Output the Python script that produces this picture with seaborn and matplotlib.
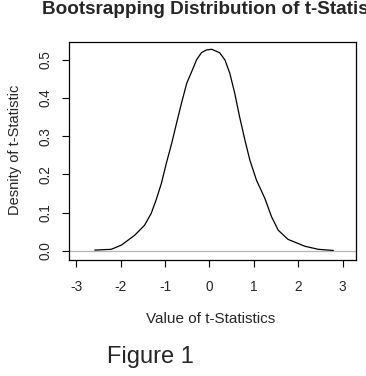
import pandas as pd
import matplotlib
matplotlib.use("Agg")
import matplotlib.pyplot as plt
import seaborn as sns

# density curve
t_value = [-2.58, -2.21, -1.98, -1.68, -1.46, -1.31, -1.20, -1.08, -0.97, -0.85,
           -0.74, -0.63, -0.51, -0.40, -0.29, -0.18, -0.07, 0.05, 0.23, 0.35,
           0.46, 0.57, 0.68, 0.80, 0.91, 1.06, 1.25, 1.40, 1.55, 1.77,
           2.15, 2.45, 2.79]
density = [0.002, 0.004, 0.015, 0.041, 0.067, 0.098, 0.133, 0.177, 0.229, 0.281,
           0.334, 0.386, 0.439, 0.469, 0.500, 0.519, 0.526, 0.528, 0.519, 0.500,
           0.465, 0.413, 0.351, 0.290, 0.238, 0.185, 0.137, 0.089, 0.054, 0.030,
           0.012, 0.004, 0.001]
x_ticks = [-3, -2, -1, 0, 1, 2, 3]
y_ticks = [0.0, 0.1, 0.2, 0.3, 0.4, 0.5]

df = pd.DataFrame({"t": t_value, "density": density})

sns.set_style("white")
plt.rcParams["font.family"] = ["Liberation Sans", "DejaVu Sans"]

W, H = 366, 376
fig = plt.figure(figsize=(W / 100, H / 100), dpi=100)
ax = fig.add_axes([69 / W, 1 - 260 / H, (356 - 69) / W, (260 - 42) / H])

ax.axhline(0, color="#b4b4b4", lw=0.9, zorder=1)
sns.lineplot(data=df, x="t", y="density", ax=ax, color="black", lw=0.9, zorder=2)

ax.set_xlim(-3.16, 3.3)
ax.set_ylim(-0.024, 0.547)
ax.set_xticks(x_ticks)
ax.set_xticklabels([str(v) for v in x_ticks])
ax.set_yticks(y_ticks)
ax.set_yticklabels([f"{v:.1f}" for v in y_ticks], rotation=90, va="center")
ax.tick_params(axis="both", direction="out", length=5, width=0.8, color="black",
               labelsize=9.8, bottom=True, left=True)
ax.tick_params(axis="x", pad=9.5)
ax.tick_params(axis="y", pad=7)
for s in ax.spines.values():
    s.set_color("black")
    s.set_linewidth(0.9)
ax.set_xlabel("")
ax.set_ylabel("")

# the title runs past the right edge, as in the reference
fig.text(42 / W, 1 - 10 / H, "Bootsrapping Distribution of t-Statistics",
         ha="left", va="center", fontsize=13.6, fontweight="bold")
fig.text(210.5 / W, 1 - 319 / H, "Value of t-Statistics", ha="center", va="center",
         fontsize=11)
fig.text(15 / W, 1 - 150 / H, "Desnity of t-Statistic", ha="center", va="center",
         rotation=90, fontsize=10.5)
fig.text(107 / W, 1 - 357 / H, "Figure 1", ha="left", va="center", fontsize=17)

fig.savefig("out.png", dpi=100)
